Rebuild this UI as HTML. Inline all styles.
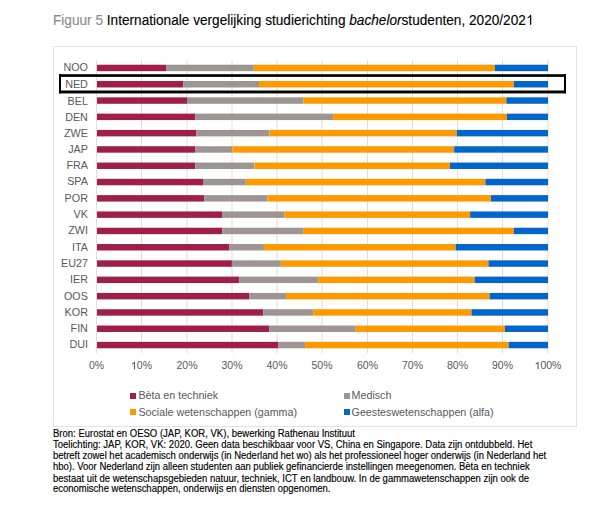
<!DOCTYPE html>
<html><head><meta charset="utf-8"><style>
html,body{margin:0;padding:0;background:#fff;}
body{width:605px;height:520px;position:relative;overflow:hidden;font-family:"Liberation Sans",sans-serif;}
.title{position:absolute;left:53.0px;top:12.1px;font-size:14.0px;line-height:16px;white-space:nowrap;color:#000;transform:scaleX(0.9736);transform-origin:0 0;-webkit-text-stroke:0.12px currentColor;}
.title .g{color:#8C8C8C;}
.one{position:relative;}
.one svg{position:absolute;left:0;top:0;width:0.55615em;height:0.90527em;overflow:visible;fill:currentColor;}
.box{position:absolute;left:53px;top:46px;width:522px;height:379px;border:1px solid #E3E3E3;}
svg{position:absolute;left:0;top:0;}
svg text{font-family:"Liberation Sans",sans-serif;font-size:10.5px;fill:#595959;}
.leg{position:absolute;font-size:10.7px;line-height:12px;color:#595959;white-space:nowrap;}
.sw{position:absolute;width:6px;height:6px;}
.fl{position:absolute;left:0;}
.fn{position:absolute;left:52.6px;top:427.2px;font-size:10.0px;line-height:11.18px;color:#000;white-space:nowrap;transform:scaleX(0.9500);transform-origin:0 0;-webkit-text-stroke:0.15px #000;}
</style></head><body>
<div class="title"><span class="g">Figuur 5</span> Internationale vergelijking studierichting <i>bachelor</i>studenten, 2020/202<span class="one">&#x2007;<svg viewBox="0 -1854 1139 1854"><path transform="scale(1,-1)" d="M763 0L583 0L583 1147C540 1106 483 1065 413 1024C343 983 280 952 223 931L223 1105C324 1153 412 1210 487 1277C562 1344 615 1407 646 1466L763 1466Z"/></svg></span></div>
<div class="box"></div>
<svg width="605" height="520" viewBox="0 0 605 520">
<rect x="96.00" y="59.8" width="1" height="293.40" fill="#DEDEDE"/>
<rect x="141.00" y="59.8" width="1" height="293.40" fill="#DEDEDE"/>
<rect x="186.50" y="59.8" width="1" height="293.40" fill="#DEDEDE"/>
<rect x="231.50" y="59.8" width="1" height="293.40" fill="#DEDEDE"/>
<rect x="276.50" y="59.8" width="1" height="293.40" fill="#DEDEDE"/>
<rect x="321.50" y="59.8" width="1" height="293.40" fill="#DEDEDE"/>
<rect x="367.00" y="59.8" width="1" height="293.40" fill="#DEDEDE"/>
<rect x="412.00" y="59.8" width="1" height="293.40" fill="#DEDEDE"/>
<rect x="457.00" y="59.8" width="1" height="293.40" fill="#DEDEDE"/>
<rect x="502.00" y="59.8" width="1" height="293.40" fill="#DEDEDE"/>
<rect x="547.50" y="59.8" width="1" height="293.40" fill="#DEDEDE"/>
<rect x="97.00" y="64.72" width="69.10" height="6.45" fill="#A01E4A"/>
<rect x="166.10" y="64.72" width="87.70" height="6.45" fill="#9D9591"/>
<rect x="253.80" y="64.72" width="241.10" height="6.45" fill="#FF9900"/>
<rect x="494.90" y="64.72" width="53.10" height="6.45" fill="#0066CC"/>
<text x="87.9" y="71" text-anchor="end" style="font-size:10.75px">NOO</text>
<rect x="97.00" y="81.02" width="86.30" height="6.45" fill="#A01E4A"/>
<rect x="183.30" y="81.02" width="75.70" height="6.45" fill="#9D9591"/>
<rect x="259.00" y="81.02" width="254.90" height="6.45" fill="#FF9900"/>
<rect x="513.90" y="81.02" width="34.10" height="6.45" fill="#0066CC"/>
<text x="87.9" y="88" text-anchor="end" style="font-size:10.75px">NED</text>
<rect x="97.00" y="97.33" width="90.00" height="6.45" fill="#A01E4A"/>
<rect x="187.00" y="97.33" width="116.40" height="6.45" fill="#9D9591"/>
<rect x="303.40" y="97.33" width="203.00" height="6.45" fill="#FF9900"/>
<rect x="506.40" y="97.33" width="41.60" height="6.45" fill="#0066CC"/>
<text x="87.9" y="105" text-anchor="end" style="font-size:10.75px">BEL</text>
<rect x="97.00" y="113.62" width="98.10" height="6.45" fill="#A01E4A"/>
<rect x="195.10" y="113.62" width="138.00" height="6.45" fill="#9D9591"/>
<rect x="333.10" y="113.62" width="173.90" height="6.45" fill="#FF9900"/>
<rect x="507.00" y="113.62" width="41.00" height="6.45" fill="#0066CC"/>
<text x="87.9" y="121" text-anchor="end" style="font-size:10.75px">DEN</text>
<rect x="97.00" y="129.93" width="99.10" height="6.45" fill="#A01E4A"/>
<rect x="196.10" y="129.93" width="73.30" height="6.45" fill="#9D9591"/>
<rect x="269.40" y="129.93" width="187.40" height="6.45" fill="#FF9900"/>
<rect x="456.80" y="129.93" width="91.20" height="6.45" fill="#0066CC"/>
<text x="87.9" y="137" text-anchor="end" style="font-size:10.75px">ZWE</text>
<rect x="97.00" y="146.23" width="98.20" height="6.45" fill="#A01E4A"/>
<rect x="195.20" y="146.23" width="37.20" height="6.45" fill="#9D9591"/>
<rect x="232.40" y="146.23" width="221.80" height="6.45" fill="#FF9900"/>
<rect x="454.20" y="146.23" width="93.80" height="6.45" fill="#0066CC"/>
<text x="87.9" y="153" text-anchor="end" style="font-size:10.75px">JAP</text>
<rect x="97.00" y="162.53" width="98.20" height="6.45" fill="#A01E4A"/>
<rect x="195.20" y="162.53" width="59.20" height="6.45" fill="#9D9591"/>
<rect x="254.40" y="162.53" width="195.50" height="6.45" fill="#FF9900"/>
<rect x="449.90" y="162.53" width="98.10" height="6.45" fill="#0066CC"/>
<text x="87.9" y="169" text-anchor="end" style="font-size:10.75px">FRA</text>
<rect x="97.00" y="178.83" width="106.00" height="6.45" fill="#A01E4A"/>
<rect x="203.00" y="178.83" width="42.80" height="6.45" fill="#9D9591"/>
<rect x="245.80" y="178.83" width="239.60" height="6.45" fill="#FF9900"/>
<rect x="485.40" y="178.83" width="62.60" height="6.45" fill="#0066CC"/>
<text x="87.9" y="185" text-anchor="end" style="font-size:10.75px">SPA</text>
<rect x="97.00" y="195.12" width="107.20" height="6.45" fill="#A01E4A"/>
<rect x="204.20" y="195.12" width="63.10" height="6.45" fill="#9D9591"/>
<rect x="267.30" y="195.12" width="223.60" height="6.45" fill="#FF9900"/>
<rect x="490.90" y="195.12" width="57.10" height="6.45" fill="#0066CC"/>
<text x="87.9" y="202" text-anchor="end" style="font-size:10.75px">POR</text>
<rect x="97.00" y="211.43" width="125.00" height="6.45" fill="#A01E4A"/>
<rect x="222.00" y="211.43" width="62.40" height="6.45" fill="#9D9591"/>
<rect x="284.40" y="211.43" width="185.70" height="6.45" fill="#FF9900"/>
<rect x="470.10" y="211.43" width="77.90" height="6.45" fill="#0066CC"/>
<text x="87.9" y="218" text-anchor="end" style="font-size:10.75px">VK</text>
<rect x="97.00" y="227.73" width="125.30" height="6.45" fill="#A01E4A"/>
<rect x="222.30" y="227.73" width="81.40" height="6.45" fill="#9D9591"/>
<rect x="303.70" y="227.73" width="210.20" height="6.45" fill="#FF9900"/>
<rect x="513.90" y="227.73" width="34.10" height="6.45" fill="#0066CC"/>
<text x="87.9" y="234" text-anchor="end" style="font-size:10.75px">ZWI</text>
<rect x="97.00" y="244.03" width="132.10" height="6.45" fill="#A01E4A"/>
<rect x="229.10" y="244.03" width="34.80" height="6.45" fill="#9D9591"/>
<rect x="263.90" y="244.03" width="191.80" height="6.45" fill="#FF9900"/>
<rect x="455.70" y="244.03" width="92.30" height="6.45" fill="#0066CC"/>
<text x="87.9" y="251" text-anchor="end" style="font-size:10.75px">ITA</text>
<rect x="97.00" y="260.33" width="134.90" height="6.45" fill="#A01E4A"/>
<rect x="231.90" y="260.33" width="49.00" height="6.45" fill="#9D9591"/>
<rect x="280.90" y="260.33" width="207.60" height="6.45" fill="#FF9900"/>
<rect x="488.50" y="260.33" width="59.50" height="6.45" fill="#0066CC"/>
<text x="87.9" y="267" text-anchor="end" style="font-size:10.75px">EU27</text>
<rect x="97.00" y="276.62" width="142.40" height="6.45" fill="#A01E4A"/>
<rect x="239.40" y="276.62" width="79.00" height="6.45" fill="#9D9591"/>
<rect x="318.40" y="276.62" width="156.30" height="6.45" fill="#FF9900"/>
<rect x="474.70" y="276.62" width="73.30" height="6.45" fill="#0066CC"/>
<text x="87.9" y="283" text-anchor="end" style="font-size:10.75px">IER</text>
<rect x="97.00" y="292.93" width="152.50" height="6.45" fill="#A01E4A"/>
<rect x="249.50" y="292.93" width="36.60" height="6.45" fill="#9D9591"/>
<rect x="286.10" y="292.93" width="203.60" height="6.45" fill="#FF9900"/>
<rect x="489.70" y="292.93" width="58.30" height="6.45" fill="#0066CC"/>
<text x="87.9" y="300" text-anchor="end" style="font-size:10.75px">OOS</text>
<rect x="97.00" y="309.23" width="166.30" height="6.45" fill="#A01E4A"/>
<rect x="263.30" y="309.23" width="49.90" height="6.45" fill="#9D9591"/>
<rect x="313.20" y="309.23" width="158.30" height="6.45" fill="#FF9900"/>
<rect x="471.50" y="309.23" width="76.50" height="6.45" fill="#0066CC"/>
<text x="87.9" y="316" text-anchor="end" style="font-size:10.75px">KOR</text>
<rect x="97.00" y="325.53" width="172.10" height="6.45" fill="#A01E4A"/>
<rect x="269.10" y="325.53" width="86.50" height="6.45" fill="#9D9591"/>
<rect x="355.60" y="325.53" width="149.40" height="6.45" fill="#FF9900"/>
<rect x="505.00" y="325.53" width="43.00" height="6.45" fill="#0066CC"/>
<text x="87.9" y="332" text-anchor="end" style="font-size:10.75px">FIN</text>
<rect x="97.00" y="341.83" width="181.40" height="6.45" fill="#A01E4A"/>
<rect x="278.40" y="341.83" width="26.70" height="6.45" fill="#9D9591"/>
<rect x="305.10" y="341.83" width="203.60" height="6.45" fill="#FF9900"/>
<rect x="508.70" y="341.83" width="39.30" height="6.45" fill="#0066CC"/>
<text x="87.9" y="348" text-anchor="end" style="font-size:10.75px">DUI</text>
<text x="96.50" y="369.2" text-anchor="middle">0%</text>
<text x="141.50" y="369.2" text-anchor="middle">&#x2007;0%</text>
<path fill="#454545" transform="translate(130.992,369.2) scale(0.005127,-0.005127)" d="M763 0L583 0L583 1147C540 1106 483 1065 413 1024C343 983 280 952 223 931L223 1105C324 1153 412 1210 487 1277C562 1344 615 1407 646 1466L763 1466Z"/>
<text x="187.00" y="369.2" text-anchor="middle">20%</text>
<text x="232.00" y="369.2" text-anchor="middle">30%</text>
<text x="277.00" y="369.2" text-anchor="middle">40%</text>
<text x="322.00" y="369.2" text-anchor="middle">50%</text>
<text x="367.50" y="369.2" text-anchor="middle">60%</text>
<text x="412.50" y="369.2" text-anchor="middle">70%</text>
<text x="457.50" y="369.2" text-anchor="middle">80%</text>
<text x="502.50" y="369.2" text-anchor="middle">90%</text>
<text x="548.00" y="369.2" text-anchor="middle">&#x2007;00%</text>
<path fill="#454545" transform="translate(534.573,369.2) scale(0.005127,-0.005127)" d="M763 0L583 0L583 1147C540 1106 483 1065 413 1024C343 983 280 952 223 931L223 1105C324 1153 412 1210 487 1277C562 1344 615 1407 646 1466L763 1466Z"/>
<rect x="59" y="74.2" width="507" height="2.7" fill="#000"/>
<rect x="59" y="90.5" width="507" height="2.9" fill="#000"/>
<rect x="59" y="74.2" width="2" height="19.2" fill="#000"/>
<rect x="564" y="74.2" width="2" height="19.2" fill="#000"/>
</svg>
<div class="sw" style="left:130.2px;top:392.8px;background:#A01E4A"></div>
<div class="leg" style="left:138.4px;top:389px">Bèta en techniek</div>
<div class="sw" style="left:130.2px;top:408.6px;background:#FF9900"></div>
<div class="leg" style="left:138.4px;top:405.5px">Sociale wetenschappen (gamma)</div>
<div class="sw" style="left:343.6px;top:392.8px;background:#9D9591"></div>
<div class="leg" style="left:351.6px;top:389px">Medisch</div>
<div class="sw" style="left:343.6px;top:408.6px;background:#0066CC"></div>
<div class="leg" style="left:351.6px;top:405.5px">Geesteswetenschappen (alfa)</div>
<div class="fn"><div class="fl" style="top:0.90px;letter-spacing:0.0106px">Bron: Eurostat en OESO (JAP, KOR, VK), bewerking Rathenau Instituut</div><div class="fl" style="top:12.00px;letter-spacing:0.0148px">Toelichting: JAP, KOR, VK: 2020. Geen data beschikbaar voor VS, China en Singapore. Data zijn ontdubbeld. Het</div><div class="fl" style="top:22.80px;letter-spacing:-0.0104px">betreft zowel het academisch onderwijs (in Nederland het wo) als het professioneel hoger onderwijs (in Nederland het</div><div class="fl" style="top:34.00px;letter-spacing:-0.0073px">hbo). Voor Nederland zijn alleen studenten aan publiek gefinancierde instellingen meegenomen. Bèta en techniek</div><div class="fl" style="top:45.50px;letter-spacing:0.0029px">bestaat uit de wetenschapsgebieden natuur, techniek, ICT en landbouw. In de gammawetenschappen zijn ook de</div><div class="fl" style="top:56.20px;letter-spacing:-0.0052px">economische wetenschappen, onderwijs en diensten opgenomen.</div></div>
</body></html>
